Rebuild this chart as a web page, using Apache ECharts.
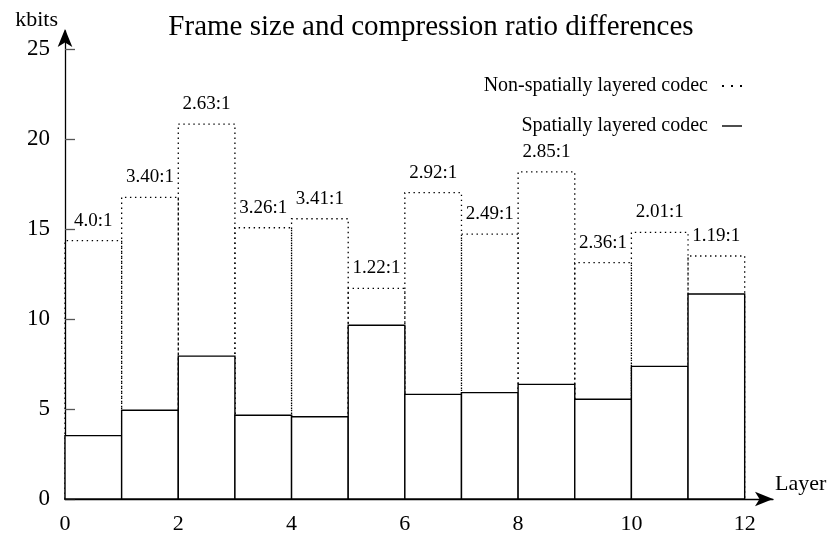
<!DOCTYPE html>
<html><head><meta charset="utf-8">
<script src="https://cdn.jsdelivr.net/npm/echarts@6/dist/echarts.min.js"></script>
<style>html,body{margin:0;padding:0;background:#fff}#c{width:833px;height:535px}</style>
</head><body><div id="c"></div>
<script>
const layers = [0,1,2,3,4,5,6,7,8,9,10,11];
const nonSpatial = [14.35,16.76,20.83,15.07,15.57,11.70,17.02,14.72,18.17,13.13,14.81,13.50];
const spatial = [3.52,4.93,7.94,4.65,4.57,9.65,5.81,5.91,6.37,5.54,7.37,11.39];
const ratios = ['4.0:1','3.40:1','2.63:1','3.26:1','3.41:1','1.22:1','2.92:1','2.49:1','2.85:1','2.36:1','2.01:1','1.19:1'];
const yTicks = [0,5,10,15,20,25];
const xTicks = [0,2,4,6,8,10,12];

const FONT = 'Liberation Serif';
const chart = echarts.init(document.getElementById('c'), null, {renderer:'canvas'});

const dottedData = layers.map((l,i)=>[l, l+1, nonSpatial[i], i]);
const solidData = layers.map((l,i)=>[l, l+1, spatial[i], i]);

chart.setOption({
  animation:false,
  backgroundColor:'#fff',
  title:{text:'Frame size and compression ratio differences', left:426, top:8, textAlign:'center',
    textStyle:{fontFamily:FONT, fontSize:29, fontWeight:'normal', color:'#000'}},
  legend:{
    orient:'vertical', right:86, top:71, align:'right', itemGap:20, itemWidth:20, itemHeight:2,
    selectedMode:false,
    textStyle:{fontFamily:FONT, fontSize:20, color:'#000', padding:[0,9,0,0]},
    data:[
      {name:'Non-spatially layered codec', icon:'path://M0,0h2v2h-2zM9,0h2v2h-2zM18,0h2v2h-2z', itemStyle:{color:'#000'}},
      {name:'Spatially layered codec', icon:'path://M0,0h20v1.4h-20z', itemStyle:{color:'#000'}}
    ]
  },
  grid:{left:65, right:60, top:31, bottom:36},
  xAxis:{
    type:'value', min:0, max:12.5,
    name:'Layer', nameLocation:'end', nameGap:2,
    nameTextStyle:{fontFamily:FONT, fontSize:22, color:'#000', verticalAlign:'bottom', padding:[0,0,4,0]},
    axisLine:{show:true, lineStyle:{color:'#000', width:1.3}, symbol:['none','arrow'], symbolSize:[11,18], symbolOffset:[0,0]},
    axisTick:{show:false},
    splitLine:{show:false},
    axisLabel:{customValues:xTicks, fontFamily:FONT, fontSize:22, color:'#000', margin:14}
  },
  yAxis:{
    type:'value', min:0, max:26,
    name:'kbits', nameLocation:'end', nameGap:11,
    nameTextStyle:{fontFamily:FONT, fontSize:22, color:'#000', align:'right', verticalAlign:'middle', padding:[0,7,0,0]},
    axisLine:{show:true, lineStyle:{color:'#000', width:1.3}, symbol:['none','arrow'], symbolSize:[11,18], symbolOffset:[0,2]},
    axisTick:{show:true, inside:true, length:10, customValues:yTicks, lineStyle:{color:'#555', width:1.3}},
    splitLine:{show:false},
    axisLabel:{customValues:yTicks, fontFamily:FONT, fontSize:23, color:'#000', margin:15}
  },
  series:[
    {
      name:'Non-spatially layered codec', type:'custom', data:dottedData,
      encode:{x:[0,1], y:2},
      itemStyle:{color:'#000'},
      renderItem:(params, api)=>{
        const x0 = api.value(0), x1 = api.value(1), v = api.value(2), idx = api.value(3);
        const pb = api.coord([x0, 0]), pt = api.coord([x1, v]);
        return {type:'group', children:[
          {type:'polyline', shape:{points:[[pb[0],pb[1]],[pb[0],pt[1]],[pt[0],pt[1]],[pt[0],pb[1]]]},
            style:{stroke:'#000', fill:null, lineWidth:1.3, lineDash:[1.4,3.6]}},
          {type:'text', x:(pb[0]+pt[0])/2, y:pt[1]-20,
            style:{text:ratios[idx], fontFamily:FONT, fontSize:19, fill:'#000', align:'center', verticalAlign:'middle'}}
        ]};
      }
    },
    {
      name:'Spatially layered codec', type:'custom', data:solidData,
      encode:{x:[0,1], y:2},
      itemStyle:{color:'#000'},
      renderItem:(params, api)=>{
        const x0 = api.value(0), x1 = api.value(1), v = api.value(2);
        const pb = api.coord([x0, 0]), pt = api.coord([x1, v]);
        return {type:'rect', shape:{x:pb[0], y:pt[1], width:pt[0]-pb[0], height:pb[1]-pt[1]},
          style:{stroke:'#000', fill:'#fff', lineWidth:1.4}};
      }
    }
  ]
});
</script>
</body></html>
